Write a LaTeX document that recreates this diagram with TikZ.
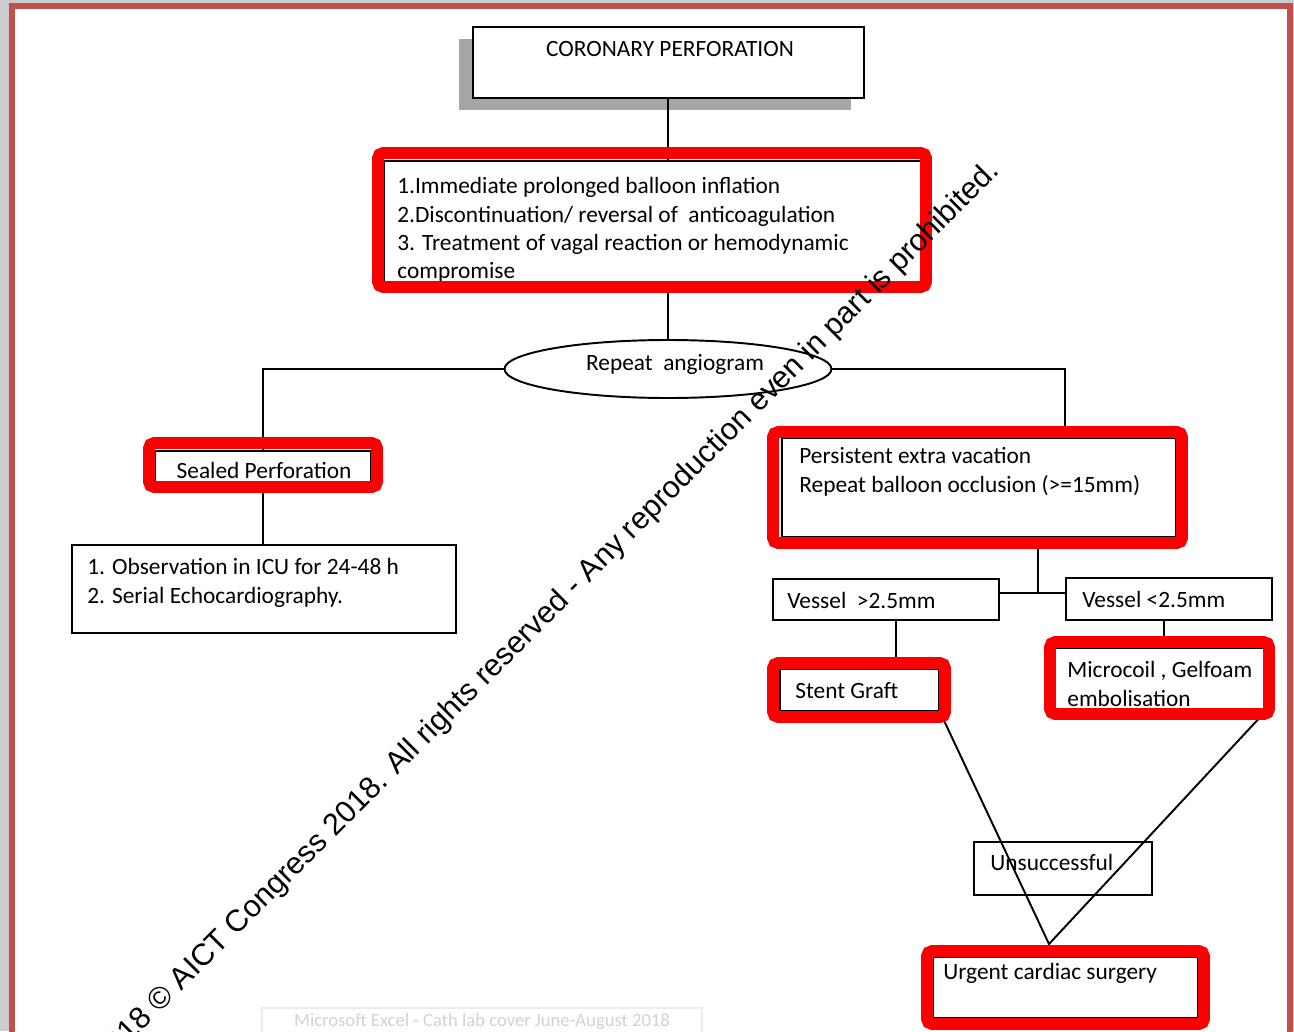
\documentclass[tikz,border=0pt]{standalone}
\usepackage{fontspec}
\setmainfont{Carlito}
\newfontfamily\wmfont{Liberation Sans}
\usetikzlibrary{fit,shapes.geometric}
\definecolor{framered}{RGB}{192,80,77}
\definecolor{markred}{RGB}{250,0,0}

\begin{document}
\begin{tikzpicture}[x=0.02cm,y=-0.02cm,
        every node/.style={font=\fontsize{13.3}{16.2}\selectfont, inner sep=0},
        box/.style={draw, line width=1.1pt, fill=white},
        link/.style={line width=1.1pt},
        redmark/.style={draw=markred, line width=6.8pt, rounded corners=3pt}]
    \useasboundingbox (0,0) rectangle (1294,1031);
    \clip (0,0) rectangle (1294,1031);

    % page frame
    \fill[gray!40] (0,0) rectangle (1294,1031);
    \fill[white] (12,6) rectangle (1290,1040);
    \draw[framered, line width=3.4pt] (12,1040) -- (12,6) -- (1290,6) -- (1290,1040);

    % tab at the bottom
    \draw[gray!15, line width=0.8pt] (262,1008) rectangle (702,1040);
    \node[text=gray!35, font=\fontsize{10.6}{12}\selectfont] (tab) at (482,1022) {Microsoft Excel - Cath lab cover June-August 2018};

    % boxes
    \fill[gray!70] (459,39) rectangle (851,110);
    \node[box, fit={(473,27) (864,98)}] (title) {};
    \node (title-txt) at (670,49) {CORONARY PERFORATION};

    \node[box, fit={(384,161) (921,284)}] (treat) {};
    \node[anchor=west, align=left] (treat-txt) at (397,230) {1.Immediate prolonged balloon inflation\\2.Discontinuation/ reversal of\ \ anticoagulation\\3. Treatment of vagal reaction or hemodynamic\\compromise};

    \node[box, ellipse, minimum width=6.54cm, minimum height=1.16cm] (angio) at (668,369) {};
    \node (angio-txt) at (675,364) {Repeat\ \ angiogram};

    \node[box, fit={(155,451) (371,484)}] (sealed) {};
    \node (sealed-txt) at (264,470) {Sealed Perforation};

    \node[box, fit={(72,545) (456,633)}] (obs) {};
    \node[anchor=west, align=left] (obs-txt) at (87,583) {1. Observation in ICU for 24-48 h\\2. Serial Echocardiography.};

    \node[box, fit={(782,438) (1176,537)}] (persist) {};
    \node[anchor=west, align=left] (persist-txt) at (799,472) {Persistent extra vacation\\Repeat balloon occlusion (>=15mm)};

    \node[box, fit={(773,579) (999,620)}] (vbig) {};
    \node[anchor=west] (vbig-txt) at (787,600) {Vessel\ \ >2.5mm};
    \node[box, fit={(1066,578) (1272,620)}] (vsmall) {};
    \node[anchor=west] (vsmall-txt) at (1082,599) {Vessel <2.5mm};

    \node[box, fit={(780,669) (939,711)}] (stent) {};
    \node[anchor=west] (stent-txt) at (795,691) {Stent Graft};
    \node[box, fit={(1055,648) (1264,711)}] (micro) {};
    \node[anchor=west, align=left] (micro-txt) at (1067,684) {Microcoil , Gelfoam\\embolisation};

    \node[box, fit={(974,842) (1152,895)}] (unsucc) {};
    \node[anchor=west] (unsucc-txt) at (990,862) {Unsuccessful};
    \node[box, fit={(933,957) (1198,1018)}] (urgent) {};
    \node[anchor=west] (urgent-txt) at (943,973) {Urgent cardiac surgery};

    % connectors
    \draw[link] (title.south -| 668,0) -- (668,0 |- treat.north);
    \draw[link] (668,0 |- treat.south) -- (angio.north);
    \draw[link] (angio.west) -| (sealed.north);
    \draw[link] (angio.east) -| (1065,0 |- persist.north);
    \draw[link] (sealed.south) -- (sealed.south |- obs.north);
    \draw[link] (1038,0 |- persist.south) -- (1038,593);
    \draw[link] (vbig.east |- 0,593) -- (vsmall.west |- 0,593);
    \draw[link] (896,0 |- vbig.south) -- (896,0 |- stent.north);
    \draw[link] (1164,0 |- vsmall.south) -- (1164,0 |- micro.north);
    \coordinate (meet) at (1049,944);
    \draw[link] (stent.south east) -- (meet) -- (micro.south east);

    % red marks
    \foreach \xa/\ya/\xb/\yb in {378/153/926/287, 149/443/377/487, 773/432/1182/543,
            773/663/945/717, 1050/642/1269/714, 927/951/1204/1024}
        \draw[redmark] (\xa,\ya) rectangle (\xb,\yb);

    % notice across the sheet
    \node[font=\wmfont\fontsize{17.4}{20}\selectfont, rotate=45, anchor=base east] (notice) at (1001,172)
        {2018 © AICT Congress 2018. All rights reserved - Any reproduction even in part is prohibited.};
\end{tikzpicture}
\end{document}
